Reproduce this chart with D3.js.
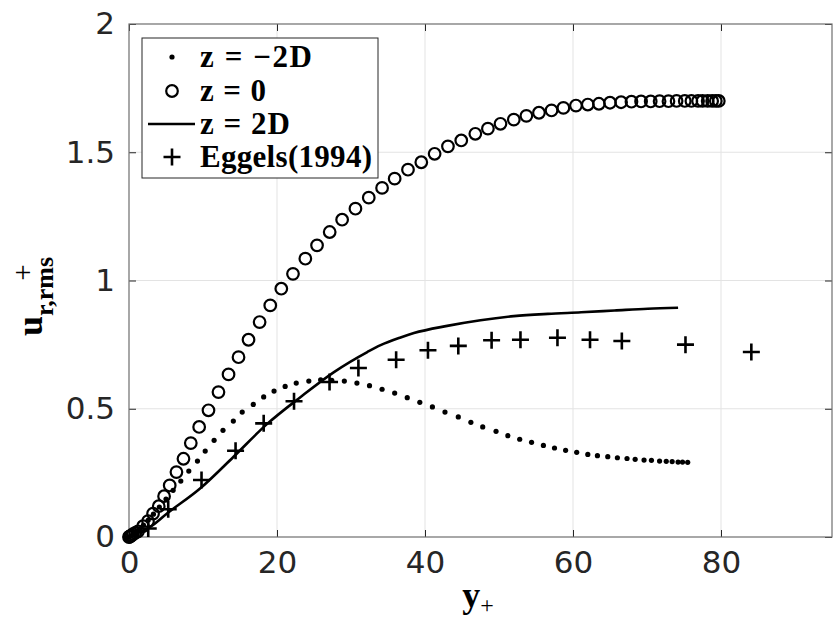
<!DOCTYPE html>
<html>
<head>
<meta charset="utf-8">
<script src="https://cdn.jsdelivr.net/npm/d3@7"></script>
<style>
  html, body { margin: 0; padding: 0; background: #fff; }
  svg { display: block; }
</style>
</head>
<body>
<svg id="chart" width="837" height="635"></svg>
<script>
// ---------------- data ----------------
const xTicks = [0, 20, 40, 60, 80];
const yTicks = [0, 0.5, 1, 1.5, 2];
const yTickLabels = ["0", "0.5", "1", "1.5", "2"];
const legendLabels = ["z = \u22122D", "z = 0", "z = 2D", "Eggels(1994)"];

// z = -2D (dots)
const zm2D_x = [0, 0.2, 0.5, 0.9, 1.4, 1.95, 2.6, 3.3, 4.1, 5.0, 5.96, 7.0, 8.08, 9.25, 10.3, 11.5, 12.7, 14.1, 15.3, 16.8, 18.2, 19.6, 21.1, 22.6, 24.3, 25.9, 27.4, 29.1, 30.8, 32.5, 34.2, 35.9, 37.6, 39.3, 41.0, 42.7, 44.5, 46.2, 47.8, 49.6, 51.2, 52.8, 54.4, 56.0, 57.5, 59.0, 60.5, 62.0, 63.3, 64.7, 66.0, 67.3, 68.4, 69.6, 70.6, 71.7, 72.6, 73.4, 74.2, 74.8, 75.5];
const zm2D_y = [0, 0.003, 0.009, 0.018, 0.03, 0.046, 0.066, 0.089, 0.117, 0.148, 0.182, 0.218, 0.257, 0.296, 0.335, 0.377, 0.416, 0.452, 0.487, 0.517, 0.546, 0.569, 0.587, 0.600, 0.608, 0.613, 0.611, 0.608, 0.600, 0.590, 0.576, 0.561, 0.543, 0.525, 0.507, 0.487, 0.468, 0.447, 0.429, 0.412, 0.395, 0.381, 0.369, 0.357, 0.347, 0.338, 0.330, 0.322, 0.317, 0.313, 0.309, 0.306, 0.303, 0.300, 0.299, 0.296, 0.295, 0.294, 0.292, 0.292, 0.291];

// z = 0 (open circles)
const z0_x = [0, 0.08, 0.2, 0.35, 0.54, 0.85, 1.22, 1.9, 2.57, 3.25, 4.02, 4.74, 5.5, 6.41, 7.36, 8.35, 9.48, 10.74, 12.09, 13.45, 14.8, 16.15, 17.65, 19.09, 20.58, 22.16, 23.83, 25.41, 27.12, 28.8, 30.6, 32.4, 34.2, 35.9, 37.7, 39.5, 41.3, 43.1, 44.9, 46.8, 48.5, 50.2, 52.0, 53.7, 55.4, 57.1, 58.7, 60.4, 62.0, 63.5, 65.0, 66.5, 67.9, 69.2, 70.5, 71.7, 72.9, 74.0, 75.1, 76.0, 76.9, 77.5, 78.2, 78.8, 79.3, 79.7];
const z0_y = [0, 0.001, 0.003, 0.006, 0.011, 0.016, 0.022, 0.042, 0.062, 0.091, 0.12, 0.159, 0.201, 0.253, 0.305, 0.366, 0.429, 0.494, 0.565, 0.634, 0.701, 0.769, 0.838, 0.903, 0.968, 1.026, 1.085, 1.137, 1.189, 1.237, 1.28, 1.323, 1.361, 1.397, 1.432, 1.461, 1.494, 1.523, 1.546, 1.572, 1.592, 1.611, 1.627, 1.642, 1.654, 1.663, 1.673, 1.682, 1.686, 1.689, 1.693, 1.695, 1.697, 1.698, 1.698, 1.699, 1.699, 1.70, 1.70, 1.70, 1.70, 1.70, 1.70, 1.70, 1.70, 1.70];

// z = 2D (solid line)
const z2D_x = [0, 1.4, 2.84, 5.1, 9.6, 14.1, 18.6, 23.2, 27.7, 32.2, 34.0, 36.7, 38.5, 43.0, 47.5, 52.0, 56.6, 61.1, 65.6, 70.1, 74.2];
const z2D_y = [0, 0.018, 0.039, 0.091, 0.189, 0.312, 0.439, 0.546, 0.643, 0.721, 0.748, 0.778, 0.795, 0.823, 0.845, 0.861, 0.870, 0.876, 0.883, 0.890, 0.894];

// Eggels (1994) (plus markers)
const eggels_x = [2.6, 5.3, 9.8, 14.4, 18.2, 22.3, 27.1, 31.0, 36.1, 40.4, 44.5, 49.0, 52.9, 57.9, 62.3, 66.6, 75.2, 84.1];
const eggels_y = [0.033, 0.108, 0.222, 0.336, 0.443, 0.529, 0.604, 0.659, 0.691, 0.728, 0.745, 0.767, 0.769, 0.777, 0.769, 0.764, 0.750, 0.721];

// ---------------- layout ----------------
const svg = d3.select("#chart");
const L = 129, R = 832, T = 24, B = 537;
const x = d3.scaleLinear().domain([0, 95]).range([L, R]);
const y = d3.scaleLinear().domain([0, 2]).range([B, T]);
const axisColor = "#262626";
const tickFont = "'DejaVu Sans', sans-serif";
const serif = "'Liberation Serif', 'Times New Roman', serif";

// grid
const grid = svg.append("g");
grid.selectAll("line.gx").data(xTicks.filter(d => d > 0)).enter().append("line")
  .attr("x1", d => x(d)).attr("x2", d => x(d)).attr("y1", T).attr("y2", B)
  .attr("stroke", "#e3e3e3").attr("stroke-width", 1);
grid.selectAll("line.gy").data(yTicks.filter(d => d > 0 && d < 2)).enter().append("line")
  .attr("x1", L).attr("x2", R).attr("y1", d => y(d)).attr("y2", d => y(d))
  .attr("stroke", "#e3e3e3").attr("stroke-width", 1);

// axes via d3 axis (inner ticks)
const xAxisB = d3.axisBottom(x).tickValues(xTicks).tickSizeInner(-7).tickSizeOuter(0).tickPadding(14).tickFormat(d3.format("d"));
const xAxisT = d3.axisTop(x).tickValues(xTicks).tickSizeInner(-7).tickSizeOuter(0).tickFormat("");
const yAxisL = d3.axisLeft(y).tickValues(yTicks).tickSizeInner(-7).tickSizeOuter(0).tickPadding(14).tickFormat((d, i) => yTickLabels[i]);
const yAxisR = d3.axisRight(y).tickValues(yTicks).tickSizeInner(-7).tickSizeOuter(0).tickFormat("");

function styleAxis(g) {
  g.select(".domain").remove();
  g.selectAll(".tick line").attr("stroke", axisColor).attr("stroke-width", 1);
  g.selectAll(".tick text").attr("fill", axisColor).style("font-family", tickFont).style("font-size", "31px");
}
svg.append("g").attr("transform", `translate(0,${B})`).call(xAxisB).call(styleAxis)
  .selectAll(".tick text").attr("dy", "0.71em");
svg.append("g").attr("transform", `translate(0,${T})`).call(xAxisT).call(styleAxis);
svg.append("g").attr("transform", `translate(${L},0)`).call(yAxisL).call(styleAxis);
svg.append("g").attr("transform", `translate(${R},0)`).call(yAxisR).call(styleAxis);

// frame
svg.append("rect").attr("x", L).attr("y", T).attr("width", R - L).attr("height", B - T)
  .attr("fill", "none").attr("stroke", "#6e6e6e").attr("stroke-width", 1.2);

// ---------------- series ----------------
const plot = svg.append("g");

// z = 2D line
const lineData = z2D_x.map((v, i) => [v, z2D_y[i]]);
plot.append("path").datum(lineData)
  .attr("d", d3.line().x(d => x(d[0])).y(d => y(d[1])).curve(d3.curveMonotoneX))
  .attr("fill", "none").attr("stroke", "#000").attr("stroke-width", 2.6);

// z = 0 circles
plot.selectAll("circle.z0").data(z0_x.map((v, i) => [v, z0_y[i]])).enter().append("circle")
  .attr("cx", d => x(d[0])).attr("cy", d => y(d[1])).attr("r", 5.8)
  .attr("fill", "none").attr("stroke", "#000").attr("stroke-width", 2.2);

// z = -2D dots
plot.selectAll("circle.zm").data(zm2D_x.map((v, i) => [v, zm2D_y[i]])).enter().append("circle")
  .attr("cx", d => x(d[0])).attr("cy", d => y(d[1])).attr("r", 2.6).attr("fill", "#000");

// Eggels plus
function plus(g, cx, cy, s) {
  g.append("path").attr("d", `M${cx - s},${cy}H${cx + s}M${cx},${cy - s}V${cy + s}`)
    .attr("stroke", "#000").attr("stroke-width", 2.6).attr("fill", "none");
}
const eg = plot.append("g");
eggels_x.forEach((v, i) => plus(eg, x(v), y(eggels_y[i]), 8.5));

// ---------------- legend ----------------
const lg = svg.append("g");
lg.append("rect").attr("x", 142).attr("y", 38).attr("width", 236).attr("height", 140)
  .attr("fill", "#fff").attr("stroke", axisColor).attr("stroke-width", 1);
const rows = [57, 91, 124, 157];
const legendWidths = [112, 66, 90, 172];
lg.append("circle").attr("cx", 172).attr("cy", rows[0]).attr("r", 2.6).attr("fill", "#000");
lg.append("circle").attr("cx", 172).attr("cy", rows[1]).attr("r", 5.8).attr("fill", "none").attr("stroke", "#000").attr("stroke-width", 2.2);
lg.append("line").attr("x1", 148).attr("x2", 195).attr("y1", rows[2]).attr("y2", rows[2]).attr("stroke", "#000").attr("stroke-width", 2.6);
plus(lg, 172, rows[3], 8.5);
lg.selectAll("text").data(legendLabels).enter().append("text")
  .attr("x", 200).attr("y", (d, i) => rows[i] + 10)
  .attr("textLength", (d, i) => legendWidths[i]).attr("lengthAdjust", "spacing")
  .style("font-family", serif).style("font-weight", "bold").style("font-size", "31px")
  .attr("fill", "#000").text(d => d);

// ---------------- axis titles ----------------
const xl = svg.append("text").attr("x", 478).attr("y", 607).attr("text-anchor", "middle")
  .style("font-family", serif).attr("fill", "#000");
xl.append("tspan").style("font-weight", "bold").style("font-size", "36px").text("y");
xl.append("tspan").style("font-size", "24px").attr("dy", 6).text("+");

const yl = svg.append("text").attr("transform", "translate(42,336) rotate(-90)")
  .style("font-family", serif).attr("fill", "#000");
yl.append("tspan").style("font-weight", "bold").style("font-size", "36px").text("u");
yl.append("tspan").style("font-weight", "bold").style("font-size", "26px").attr("dy", 11).text("r,rms");
svg.append("text").attr("x", 23).attr("y", 271).attr("text-anchor", "middle").attr("dominant-baseline", "central")
  .style("font-family", serif).style("font-size", "30px").attr("fill", "#000").text("+");
</script>
</body>
</html>
